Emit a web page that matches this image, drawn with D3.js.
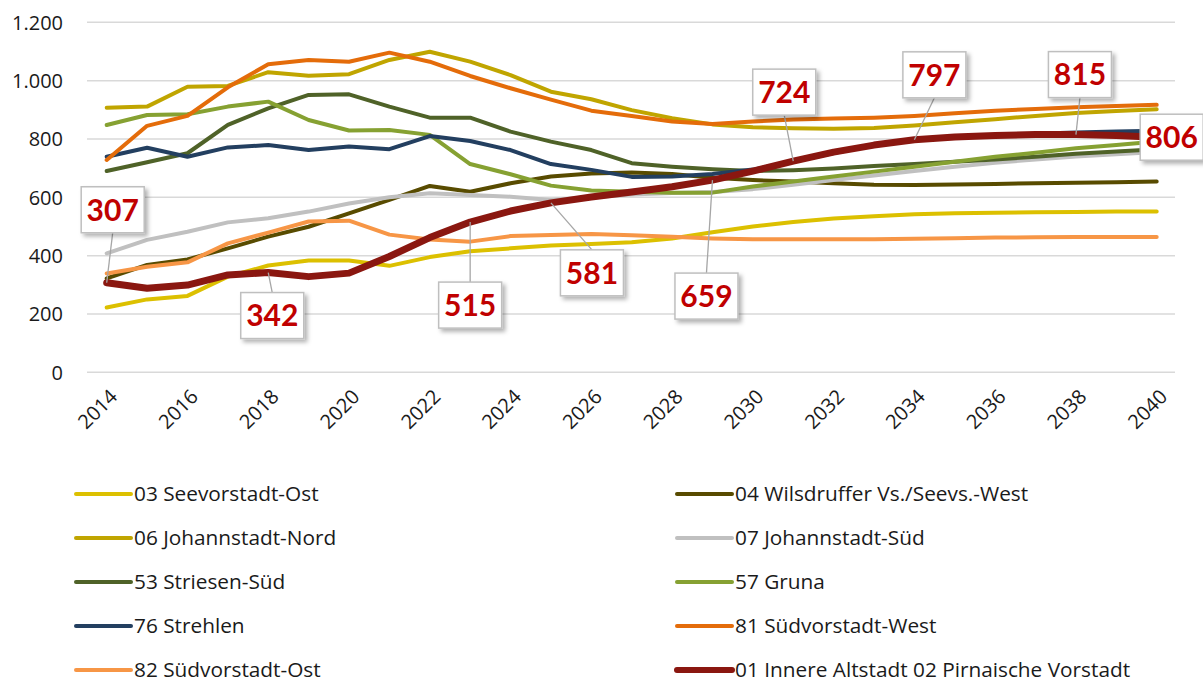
<!DOCTYPE html>
<html>
<head>
<meta charset="utf-8">
<script src="https://cdn.jsdelivr.net/npm/d3@7"></script>
<style>
    html, body { margin: 0; padding: 0; background: #fff; }
    svg { display: block; }
</style>
</head>
<body>
<svg id="chart" width="1203" height="684"></svg>
<script>
// Population forecast per district, 2014 - 2040

const years = d3.range(2014, 2041);
const yTicks = [0, 200, 400, 600, 800, 1000, 1200];
const xTickYears = d3.range(2014, 2041, 2);

const seriesNames = [
    '03 Seevorstadt-Ost',
    '04 Wilsdruffer Vs./Seevs.-West',
    '06 Johannstadt-Nord',
    '07 Johannstadt-Süd',
    '53 Striesen-Süd',
    '57 Gruna',
    '76 Strehlen',
    '81 Südvorstadt-West',
    '82 Südvorstadt-Ost',
    '01 Innere Altstadt 02 Pirnaische Vorstadt'
];

const seevorstadtOst = [222, 250, 262, 328, 366, 383, 383, 365, 395, 415, 425, 435, 440, 446, 459, 480, 500, 515, 527, 535, 542, 545, 547, 549, 550, 551, 551];
const wilsdruffer = [322, 368, 387, 425, 465, 499, 545, 591, 639, 619, 648, 671, 682, 685, 680, 667, 659, 654, 648, 643, 642, 644, 646, 648, 650, 652, 654];
const johannstadtNord = [907, 911, 979, 982, 1029, 1017, 1022, 1071, 1099, 1065, 1019, 962, 936, 899, 871, 850, 840, 837, 835, 838, 846, 857, 868, 879, 889, 896, 902];
const johannstadtSued = [408, 454, 482, 514, 528, 551, 579, 600, 614, 608, 602, 591, 600, 610, 615, 618, 628, 643, 659, 675, 690, 705, 718, 730, 740, 748, 755];
const striesenSued = [690, 720, 751, 848, 905, 951, 953, 911, 873, 873, 825, 791, 762, 717, 705, 696, 690, 693, 699, 707, 714, 722, 730, 739, 749, 757, 765];
const gruna = [848, 882, 885, 911, 928, 865, 829, 831, 814, 714, 679, 640, 623, 619, 616, 616, 637, 654, 671, 688, 705, 722, 739, 753, 768, 779, 791];
const strehlen = [739, 770, 739, 771, 779, 762, 774, 765, 810, 793, 762, 714, 694, 670, 671, 680, 695, 722, 752, 778, 796, 806, 813, 818, 822, 826, 828];
const suedvorstadtWest = [728, 845, 879, 977, 1056, 1071, 1065, 1096, 1065, 1016, 974, 935, 897, 879, 860, 851, 860, 867, 870, 873, 879, 888, 897, 903, 909, 913, 917];
const suedvorstadtOst = [339, 362, 377, 442, 479, 517, 520, 472, 455, 448, 467, 471, 474, 470, 465, 459, 456, 456, 456, 456, 458, 460, 462, 463, 464, 464, 464];
const altstadt = [307, 288, 299, 334, 342, 328, 340, 397, 462, 515, 553, 581, 601, 618, 636, 659, 690, 724, 755, 779, 797, 807, 812, 815, 815, 812, 806];

const seriesValues = [seevorstadtOst, wilsdruffer, johannstadtNord, johannstadtSued, striesenSued,
    gruna, strehlen, suedvorstadtWest, suedvorstadtOst, altstadt];

// Years of the Altstadt series that carry a value callout
const labelYears = [2014, 2018, 2023, 2025, 2029, 2031, 2034, 2038, 2040];

// styling
const colors = ['#DCC000', '#584B00', '#C0A500', '#C0C0C0', '#4F6228',
    '#86A132', '#233F60', '#E46C0A', '#F79646', '#8A1710'];
const widths = [4, 4, 4, 4, 4, 4, 4, 4, 4, 7];
// callout box offsets from the data point (px)
const labelOffsets = [[6, -73], [4, 43], [0, 83], [41, 70], [-6, 116], [-9, -69], [20, -65], [4, -60], [15, 0]];

const svg = d3.select('#chart');
const width = 1203;
const height = 684;
const font = '"Open Sans", Lato, sans-serif';

svg.append('rect').attr('width', width).attr('height', height).attr('fill', '#fff');

const x = d3.scaleLinear().domain([2014, 2040]).range([106.7, 1156.7]);
const y = d3.scaleLinear().domain([0, 1200]).range([372.3, 22.3]);

// Drop shadow for callouts
const defs = svg.append('defs');
const shadow = defs.append('filter')
    .attr('id', 'shadow')
    .attr('x', '-20%').attr('y', '-20%')
    .attr('width', '150%').attr('height', '150%');
shadow.append('feDropShadow')
    .attr('dx', 3).attr('dy', 3)
    .attr('stdDeviation', 2)
    .attr('flood-color', '#000')
    .attr('flood-opacity', 0.3);

// Gridlines
svg.append('g')
    .selectAll('line')
    .data(yTicks)
    .enter()
    .append('line')
    .attr('x1', 87)
    .attr('x2', 1175)
    .attr('y1', d => y(d))
    .attr('y2', d => y(d))
    .style('stroke', '#D9D9D9')
    .style('stroke-width', 1.5);

// Y axis labels
const fmt = d3.formatLocale({ decimal: ',', thousands: '.', grouping: [3], currency: ['', ''] }).format(',');
svg.append('g')
    .selectAll('text')
    .data(yTicks)
    .enter()
    .append('text')
    .attr('x', 63)
    .attr('y', d => y(d))
    .attr('dy', '0.36em')
    .attr('text-anchor', 'end')
    .style('font-family', font)
    .style('font-size', '20px')
    .style('fill', '#1a1a1a')
    .text(d => fmt(d));

// X axis labels, rotated
svg.append('g')
    .selectAll('text')
    .data(xTickYears)
    .enter()
    .append('text')
    .attr('transform', d => `translate(${x(d) + 7}, 393) rotate(-45)`)
    .attr('text-anchor', 'end')
    .attr('dy', '0.35em')
    .style('font-family', font)
    .style('font-size', '20px')
    .style('fill', '#1a1a1a')
    .text(d => d);

// Lines
const line = d3.line()
    .x((d, i) => x(years[i]))
    .y(d => y(d))
    .curve(d3.curveLinear);

svg.append('g')
    .selectAll('path')
    .data(seriesValues)
    .enter()
    .append('path')
    .attr('d', line)
    .style('fill', 'none')
    .style('stroke', (d, i) => colors[i])
    .style('stroke-width', (d, i) => widths[i])
    .style('stroke-linejoin', 'round')
    .style('stroke-linecap', 'round');

// Callouts for the Altstadt series
const callouts = svg.append('g');
const boxW = 63;
const boxH = 46;
labelYears.forEach((yr, i) => {
    const v = altstadt[years.indexOf(yr)];
    const px = x(yr);
    const py = y(v);
    const cx = px + labelOffsets[i][0];
    const cy = py + labelOffsets[i][1];

    if (Math.abs(labelOffsets[i][1]) > boxH / 2) {
        const edge = labelOffsets[i][1] > 0 ? cy - boxH / 2 : cy + boxH / 2;
        callouts.append('line')
            .attr('x1', px).attr('y1', py)
            .attr('x2', cx).attr('y2', edge)
            .style('stroke', '#A6A6A6')
            .style('stroke-width', 1.3);
    }

    callouts.append('rect')
        .attr('x', cx - boxW / 2)
        .attr('y', cy - boxH / 2)
        .attr('width', boxW)
        .attr('height', boxH)
        .attr('filter', 'url(#shadow)')
        .style('fill', '#fff')
        .style('stroke', '#BFBFBF')
        .style('stroke-width', 1.5);

    callouts.append('text')
        .attr('x', cx)
        .attr('y', cy)
        .attr('dy', '0.36em')
        .attr('text-anchor', 'middle')
        .style('font-family', 'Lato, sans-serif')
        .style('font-size', '30px')
        .style('font-weight', 'bold')
        .style('fill', '#C00000')
        .text(v);
});

// Legend, two columns, filled row by row
const legend = svg.append('g');
const legendItems = legend.selectAll('g')
    .data(seriesNames)
    .enter()
    .append('g')
    .attr('transform', (d, i) => `translate(${i % 2 === 0 ? 76 : 677}, ${494 + Math.floor(i / 2) * 44})`);

legendItems.append('line')
    .attr('x1', 0)
    .attr('x2', 55)
    .style('stroke', (d, i) => colors[i])
    .style('stroke-width', (d, i) => i === 9 ? 6 : 4)
    .style('stroke-linecap', 'round');

legendItems.append('text')
    .attr('x', 58)
    .attr('dy', '0.35em')
    .style('font-family', font)
    .style('font-size', '20.8px')
    .style('fill', '#1a1a1a')
    .text(d => d);
</script>
</body>
</html>
